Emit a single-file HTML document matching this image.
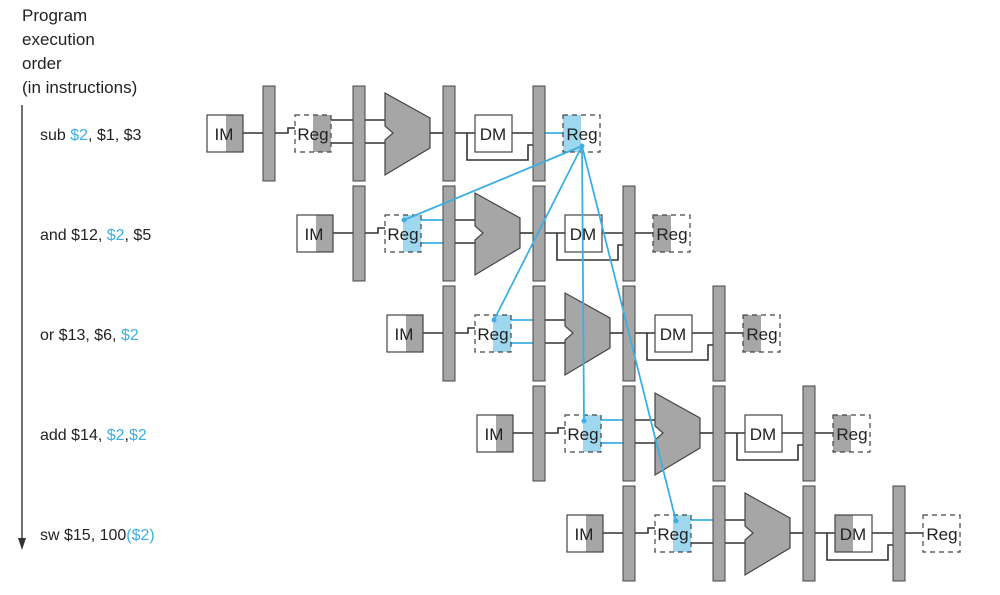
<!DOCTYPE html>
<html><head><meta charset="utf-8"><style>
html,body{margin:0;padding:0;background:#fff;}
svg{display:block;}
text{font-family:"Liberation Sans",Arial,sans-serif;fill:#222;}
.p{fill:#a6a6a6;stroke:#444;stroke-width:1;}
.w{stroke:#333;stroke-width:1.6;fill:none;}
.bl{stroke:#3eaee3;stroke-width:1.8;fill:none;}
.box{fill:none;stroke:#444;stroke-width:1.2;}
.dash{fill:none;stroke:#444;stroke-width:1.2;stroke-dasharray:5,4;}
.g{fill:#a6a6a6;}
.b{fill:#9fd7ee;}
.lbl{font-size:17px;}
</style></head><body>
<svg width="1000" height="595" viewBox="0 0 1000 595" xmlns="http://www.w3.org/2000/svg">
<text x="22" y="21" class="lbl">Program</text>
<text x="22" y="45" class="lbl">execution</text>
<text x="22" y="69" class="lbl">order</text>
<text x="22" y="93" class="lbl">(in instructions)</text>
<line x1="22" y1="105" x2="22" y2="540" stroke="#333" stroke-width="1.4"/>
<polygon points="18,538 26,538 22,550" fill="#333"/>
<text x="40" y="140" font-size="16">sub <tspan fill="#3eaee3">$2</tspan>, $1, $3</text>
<text x="40" y="240" font-size="16">and $12, <tspan fill="#3eaee3">$2</tspan>, $5</text>
<text x="40" y="340" font-size="16">or $13, $6, <tspan fill="#3eaee3">$2</tspan></text>
<text x="40" y="440" font-size="16">add $14, <tspan fill="#3eaee3">$2</tspan>,<tspan fill="#3eaee3">$2</tspan></text>
<text x="40" y="540" font-size="16">sw $15, 100<tspan fill="#3eaee3">($2)</tspan></text>

<!-- Row 0 -->
<g>
<rect x="226" y="115" width="17" height="37" class="g"/>
<rect x="313" y="115" width="18" height="37" class="g"/>
<rect x="563" y="115" width="18" height="37" class="b"/>
<line x1="331" y1="120" x2="385" y2="120" class="w"/><line x1="331" y1="143" x2="385" y2="143" class="w"/>
<line x1="243" y1="133" x2="263" y2="133" class="w"/><polyline points="275,133 288,133 288,128 295,128" class="w"/>
<line x1="430" y1="133" x2="443" y2="133" class="w"/><line x1="455" y1="133" x2="475" y2="133" class="w"/>
<line x1="512" y1="133" x2="533" y2="133" class="w"/>
<polyline points="467,133 467,160 528,160 528,145 533,145" class="w"/>
<line x1="545" y1="133" x2="563" y2="133" class="bl"/>
<rect x="263" y="86" width="12" height="95" class="p"/><rect x="353" y="86" width="12" height="95" class="p"/>
<rect x="443" y="86" width="12" height="95" class="p"/><rect x="533" y="86" width="12" height="95" class="p"/>
<polygon points="385,93 430,118 430,148 385,175 385,140 393,133 385,126" fill="#a6a6a6" stroke="#444" stroke-width="1.2"/>
<rect x="207" y="115" width="36" height="37" class="box"/><text x="224" y="140" font-size="17" text-anchor="middle">IM</text>
<rect x="295" y="115" width="36" height="37" class="dash"/><text x="313" y="140" font-size="17" text-anchor="middle">Reg</text>
<rect x="475" y="115" width="37" height="37" class="box"/><text x="493" y="140" font-size="17" text-anchor="middle">DM</text>
<rect x="563" y="115" width="37" height="37" class="dash"/><text x="582" y="140" font-size="17" text-anchor="middle">Reg</text>
</g>

<!-- Rows 1..3 -->
<g transform="translate(90,100)">
<rect x="226" y="115" width="17" height="37" class="g"/>
<rect x="313" y="115" width="18" height="37" class="b"/>
<rect x="563" y="115" width="18" height="37" class="g"/>
<line x1="331" y1="120" x2="353" y2="120" class="bl"/><line x1="331" y1="143" x2="353" y2="143" class="bl"/>
<line x1="365" y1="120" x2="385" y2="120" class="w"/><line x1="365" y1="143" x2="385" y2="143" class="w"/>
<line x1="243" y1="133" x2="263" y2="133" class="w"/><polyline points="275,133 288,133 288,128 295,128" class="w"/>
<line x1="430" y1="133" x2="443" y2="133" class="w"/><line x1="455" y1="133" x2="475" y2="133" class="w"/>
<line x1="512" y1="133" x2="533" y2="133" class="w"/>
<polyline points="467,133 467,160 528,160 528,145 533,145" class="w"/>
<line x1="545" y1="133" x2="563" y2="133" class="w"/>
<rect x="263" y="86" width="12" height="95" class="p"/><rect x="353" y="86" width="12" height="95" class="p"/>
<rect x="443" y="86" width="12" height="95" class="p"/><rect x="533" y="86" width="12" height="95" class="p"/>
<polygon points="385,93 430,118 430,148 385,175 385,140 393,133 385,126" fill="#a6a6a6" stroke="#444" stroke-width="1.2"/>
<rect x="207" y="115" width="36" height="37" class="box"/><text x="224" y="140" font-size="17" text-anchor="middle">IM</text>
<rect x="295" y="115" width="36" height="37" class="dash"/><text x="313" y="140" font-size="17" text-anchor="middle">Reg</text>
<rect x="475" y="115" width="37" height="37" class="box"/><text x="493" y="140" font-size="17" text-anchor="middle">DM</text>
<rect x="563" y="115" width="37" height="37" class="dash"/><text x="582" y="140" font-size="17" text-anchor="middle">Reg</text>
</g>
<g transform="translate(180,200)">
<rect x="226" y="115" width="17" height="37" class="g"/>
<rect x="313" y="115" width="18" height="37" class="b"/>
<rect x="563" y="115" width="18" height="37" class="g"/>
<line x1="331" y1="120" x2="353" y2="120" class="bl"/><line x1="331" y1="143" x2="353" y2="143" class="bl"/>
<line x1="365" y1="120" x2="385" y2="120" class="w"/><line x1="365" y1="143" x2="385" y2="143" class="w"/>
<line x1="243" y1="133" x2="263" y2="133" class="w"/><polyline points="275,133 288,133 288,128 295,128" class="w"/>
<line x1="430" y1="133" x2="443" y2="133" class="w"/><line x1="455" y1="133" x2="475" y2="133" class="w"/>
<line x1="512" y1="133" x2="533" y2="133" class="w"/>
<polyline points="467,133 467,160 528,160 528,145 533,145" class="w"/>
<line x1="545" y1="133" x2="563" y2="133" class="w"/>
<rect x="263" y="86" width="12" height="95" class="p"/><rect x="353" y="86" width="12" height="95" class="p"/>
<rect x="443" y="86" width="12" height="95" class="p"/><rect x="533" y="86" width="12" height="95" class="p"/>
<polygon points="385,93 430,118 430,148 385,175 385,140 393,133 385,126" fill="#a6a6a6" stroke="#444" stroke-width="1.2"/>
<rect x="207" y="115" width="36" height="37" class="box"/><text x="224" y="140" font-size="17" text-anchor="middle">IM</text>
<rect x="295" y="115" width="36" height="37" class="dash"/><text x="313" y="140" font-size="17" text-anchor="middle">Reg</text>
<rect x="475" y="115" width="37" height="37" class="box"/><text x="493" y="140" font-size="17" text-anchor="middle">DM</text>
<rect x="563" y="115" width="37" height="37" class="dash"/><text x="582" y="140" font-size="17" text-anchor="middle">Reg</text>
</g>
<g transform="translate(270,300)">
<rect x="226" y="115" width="17" height="37" class="g"/>
<rect x="313" y="115" width="18" height="37" class="b"/>
<rect x="563" y="115" width="18" height="37" class="g"/>
<line x1="331" y1="120" x2="353" y2="120" class="bl"/><line x1="331" y1="143" x2="353" y2="143" class="bl"/>
<line x1="365" y1="120" x2="385" y2="120" class="w"/><line x1="365" y1="143" x2="385" y2="143" class="w"/>
<line x1="243" y1="133" x2="263" y2="133" class="w"/><polyline points="275,133 288,133 288,128 295,128" class="w"/>
<line x1="430" y1="133" x2="443" y2="133" class="w"/><line x1="455" y1="133" x2="475" y2="133" class="w"/>
<line x1="512" y1="133" x2="533" y2="133" class="w"/>
<polyline points="467,133 467,160 528,160 528,145 533,145" class="w"/>
<line x1="545" y1="133" x2="563" y2="133" class="w"/>
<rect x="263" y="86" width="12" height="95" class="p"/><rect x="353" y="86" width="12" height="95" class="p"/>
<rect x="443" y="86" width="12" height="95" class="p"/><rect x="533" y="86" width="12" height="95" class="p"/>
<polygon points="385,93 430,118 430,148 385,175 385,140 393,133 385,126" fill="#a6a6a6" stroke="#444" stroke-width="1.2"/>
<rect x="207" y="115" width="36" height="37" class="box"/><text x="224" y="140" font-size="17" text-anchor="middle">IM</text>
<rect x="295" y="115" width="36" height="37" class="dash"/><text x="313" y="140" font-size="17" text-anchor="middle">Reg</text>
<rect x="475" y="115" width="37" height="37" class="box"/><text x="493" y="140" font-size="17" text-anchor="middle">DM</text>
<rect x="563" y="115" width="37" height="37" class="dash"/><text x="582" y="140" font-size="17" text-anchor="middle">Reg</text>
</g>
<!-- Row 4 -->
<g transform="translate(360,400)">
<rect x="226" y="115" width="17" height="37" class="g"/>
<rect x="313" y="115" width="18" height="37" class="b"/>
<rect x="475" y="115" width="18" height="37" class="g"/>
<line x1="331" y1="120" x2="353" y2="120" class="bl"/><line x1="331" y1="143" x2="353" y2="143" class="w"/>
<line x1="365" y1="120" x2="385" y2="120" class="w"/><line x1="365" y1="143" x2="385" y2="143" class="w"/>
<line x1="243" y1="133" x2="263" y2="133" class="w"/><polyline points="275,133 288,133 288,128 295,128" class="w"/>
<line x1="430" y1="133" x2="443" y2="133" class="w"/><line x1="455" y1="133" x2="475" y2="133" class="w"/>
<line x1="512" y1="133" x2="533" y2="133" class="w"/>
<polyline points="467,133 467,160 528,160 528,145 533,145" class="w"/>
<line x1="545" y1="133" x2="563" y2="133" class="w"/>
<rect x="263" y="86" width="12" height="95" class="p"/><rect x="353" y="86" width="12" height="95" class="p"/>
<rect x="443" y="86" width="12" height="95" class="p"/><rect x="533" y="86" width="12" height="95" class="p"/>
<polygon points="385,93 430,118 430,148 385,175 385,140 393,133 385,126" fill="#a6a6a6" stroke="#444" stroke-width="1.2"/>
<rect x="207" y="115" width="36" height="37" class="box"/><text x="224" y="140" font-size="17" text-anchor="middle">IM</text>
<rect x="295" y="115" width="36" height="37" class="dash"/><text x="313" y="140" font-size="17" text-anchor="middle">Reg</text>
<rect x="475" y="115" width="37" height="37" class="box"/><text x="493" y="140" font-size="17" text-anchor="middle">DM</text>
<rect x="563" y="115" width="37" height="37" class="dash"/><text x="582" y="140" font-size="17" text-anchor="middle">Reg</text>
</g>

<!-- dependency lines -->
<g class="bl">
<line x1="582" y1="146" x2="404" y2="220"/>
<line x1="582" y1="146" x2="494" y2="320"/>
<line x1="582" y1="146" x2="584" y2="421"/>
<line x1="582" y1="146" x2="676" y2="521"/>
</g>
<g fill="#3eaee3">
<circle cx="582" cy="146" r="2.5"/><circle cx="404" cy="220" r="2.5"/><circle cx="494" cy="320" r="2.5"/>
<circle cx="584" cy="421" r="2.5"/><circle cx="676" cy="521" r="2.5"/>
</g>
</svg>
</body></html>
